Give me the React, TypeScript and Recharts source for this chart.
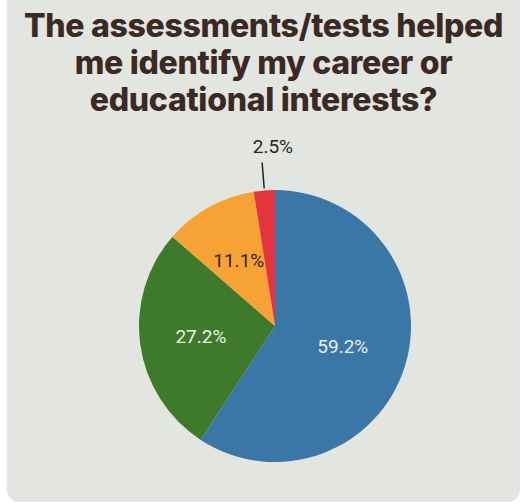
import React from "react";
import { PieChart, Pie, Cell } from "recharts";

const titleLines = [
  "The assessments/tests helped",
  "me identify my career or",
  "educational interests?",
];
const categories = ["Agree", "Neutral", "Somewhat", "Disagree"];
const values = [59.2, 27.2, 11.1, 2.5];
const labels = ["59.2%", "27.2%", "11.1%", "2.5%"];
const colors = ["#3b77a6", "#3f7a2c", "#f7a234", "#e2353d"];
const labelColors = ["#e8eef4", "#eef2ea", "#2a2222", "#2a2222"];
const outsideLabel = [false, false, false, true];

const data = categories.map((name, i) => ({ name, value: values[i], label: labels[i] }));

const RAD = Math.PI / 180;

const renderLabel = (props: any) => {
  const { cx, cy, midAngle, outerRadius, index } = props;
  const cos = Math.cos(-midAngle * RAD);
  const sin = Math.sin(-midAngle * RAD);
  if (outsideLabel[index]) {
    const x1 = cx + (outerRadius + 2) * cos;
    const y1 = cy + (outerRadius + 2) * sin;
    const x2 = cx + (outerRadius + 28) * cos;
    const y2 = cy + (outerRadius + 28) * sin;
    const tx = cx + (outerRadius + 44) * cos;
    const ty = cy + (outerRadius + 44) * sin;
    return (
      <g key={`l${index}`}>
        <line x1={x1} y1={y1} x2={x2} y2={y2} stroke="#222" strokeWidth={1.5} />
        <text
          x={tx + 12}
          y={ty}
          textAnchor="middle"
          dominantBaseline="central"
          fill={labelColors[index]}
          fontFamily="Roboto"
          fontSize={19}
        >
          {labels[index]}
        </text>
      </g>
    );
  }
  const r = outerRadius * (index === 0 ? 0.52 : 0.55);
  const x = cx + r * cos;
  const y = cy + r * sin;
  return (
    <text
      key={`l${index}`}
      x={x}
      y={y}
      textAnchor="middle"
      dominantBaseline="central"
      fill={labelColors[index]}
      fontFamily="Roboto"
      fontSize={19}
    >
      {labels[index]}
    </text>
  );
};

export default function App() {
  return (
    <div
      style={{
        position: "absolute",
        left: 0,
        top: 0,
        width: 527,
        height: 504,
        background: "#ffffff",
        overflow: "hidden",
      }}
    >
      <div
        style={{
          position: "absolute",
          left: 7,
          top: -12,
          width: 513,
          height: 514,
          background: "#e3e5e1",
          borderRadius: 12,
        }}
      />
      <div
        style={{
          position: "absolute",
          left: 0,
          top: 7,
          width: 527,
          textAlign: "center",
          fontFamily: "Inter",
          fontWeight: 800,
          fontSize: 32,
          lineHeight: "37px",
          color: "#3b2a24",
          letterSpacing: -0.3,
        }}
      >
        {titleLines.map((t, i) => (
          <div key={i}>{t}</div>
        ))}
      </div>
      <div style={{ position: "absolute", left: 0, top: 0 }}>
        <PieChart width={527} height={504}>
          <Pie
            data={data}
            dataKey="value"
            nameKey="name"
            cx={270}
            cy={321}
            outerRadius={136}
            startAngle={90}
            endAngle={-270}
            stroke="none"
            label={renderLabel}
            labelLine={false}
            isAnimationActive={false}
          >
            {data.map((d, i) => (
              <Cell key={d.name} fill={colors[i]} />
            ))}
          </Pie>
        </PieChart>
      </div>
    </div>
  );
}
